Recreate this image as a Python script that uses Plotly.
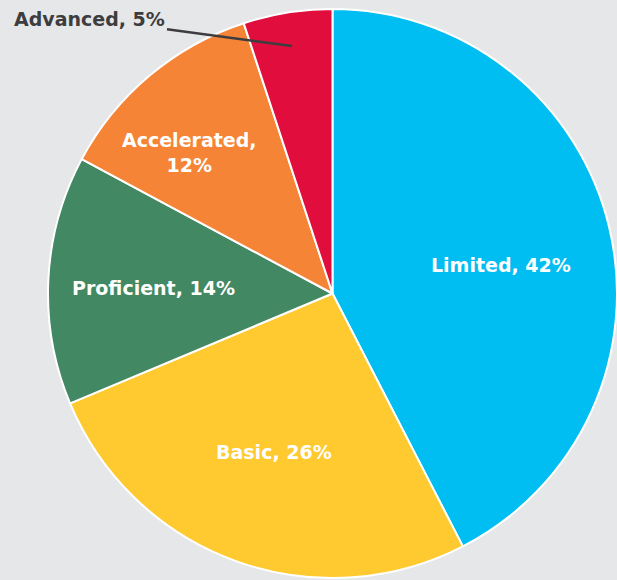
import math
import plotly.graph_objects as go

categories = ["Limited", "Basic", "Proficient", "Accelerated", "Advanced"]
values = [42, 26, 14, 12, 5]
colors = ["#00bdf2", "#ffc930", "#428862", "#f58437", "#e10d3c"]
slice_text = ["Limited, 42%", "Basic, 26%", "Proficient, 14%", "Accelerated,<br>12%", ""]
outside_label = "Advanced, 5%"

# label placement style: radial fraction and angular nudge (degrees) per slice
label_frac = [0.60, 0.594, 0.63, 0.707, 0]
label_nudge = [4.0, 0.4, -0.9, -5.3, 0]

fig = go.Figure(go.Pie(
    labels=categories,
    values=values,
    textinfo="none",
    sort=False,
    direction="clockwise",
    rotation=0,
    marker=dict(colors=colors, line=dict(color="white", width=2)),
    hoverinfo="label+value",
    showlegend=False,
))

total = sum(values)
cum = 0
for v, txt, fr, nd in zip(values, slice_text, label_frac, label_nudge):
    mid = (cum + v / 2) / total * 360 + nd
    cum += v
    if not txt:
        continue
    a = math.radians(mid)
    fig.add_annotation(
        x=0.5 + fr * 0.5 * math.sin(a), y=0.5 + fr * 0.5 * math.cos(a),
        xref="paper", yref="paper", text=txt, showarrow=False,
        xanchor="center", yanchor="middle",
        font=dict(family="DejaVu Sans", size=19, color="white", weight="bold"),
    )

fig.add_annotation(
    x=0.4288, y=0.935, xref="paper", yref="paper",
    text=outside_label, showarrow=True,
    ax=-202, ay=-27, arrowhead=0, arrowwidth=2.5, arrowcolor="#3d3d3f",
    font=dict(family="DejaVu Sans", size=19, color="#3d3d3f", weight="bold"),
)

fig.update_layout(
    width=617, height=580,
    margin=dict(l=48, r=0, t=9, b=2),
    paper_bgcolor="#e6e7e8",
    plot_bgcolor="#e6e7e8",
)

fig.write_html(
    "out.html",
    config={"displayModeBar": False},
    post_script="document.body.style.margin='0';document.body.style.background='#e6e7e8';document.body.style.overflow='hidden';",
)
